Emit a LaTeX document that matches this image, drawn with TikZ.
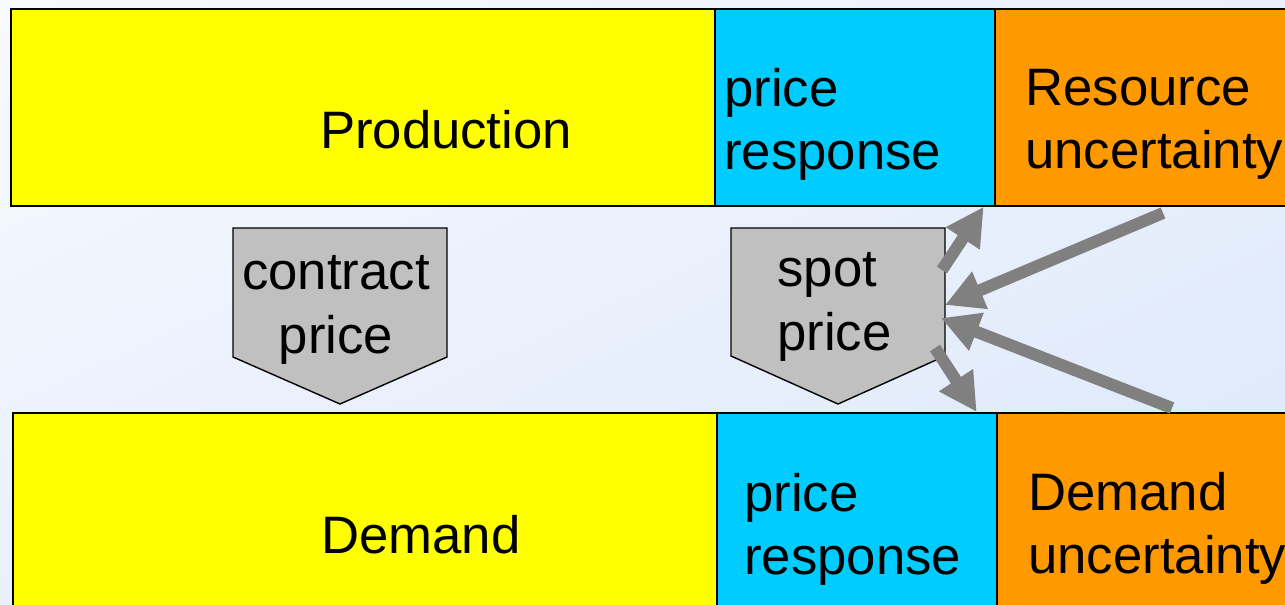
\documentclass[tikz,border=0pt]{standalone}
\usepackage{fontspec}
\setmainfont{Liberation Sans}
\usetikzlibrary{arrows.meta,positioning,calc,shadings}

\definecolor{sunyellow}{HTML}{FFFF00}
\definecolor{skycyan}{HTML}{00CCFF}
\definecolor{amber}{HTML}{FF9900}
\definecolor{tagfill}{HTML}{C0C0C0}
\definecolor{flowgray}{HTML}{808080}
\definecolor{paleA}{HTML}{F7F9FE}
\definecolor{paleB}{HTML}{E9F0FC}
\definecolor{paleC}{HTML}{DCE7FA}

\begin{document}
\begin{tikzpicture}[
    x=0.02cm, y=-0.02cm,
    cell/.style={draw, line width=1pt, anchor=north west, inner sep=0},
    txt/.style={font=\fontsize{30}{36}\selectfont, inner sep=0},
    tag/.style={draw, line width=0.8pt, fill=tagfill},
    flow/.style={draw=flowgray, line width=0.24cm, -{Triangle[length=0.76cm,width=0.76cm]}}
  ]

  \useasboundingbox (0,0) rectangle (1285,605);
  \clip (0,0) rectangle (1285,605);
  \shade[upper left=paleA, upper right=paleB, lower left=paleB, lower right=paleC]
    (0,0) rectangle (1285,605);

  % producer side
  \node[cell, fill=sunyellow, minimum width=14.08cm, minimum height=3.94cm] (prod) at (10,8) {};
  \node[cell, fill=skycyan, minimum width=5.6cm, minimum height=3.94cm] (resp1) at (714,8) {};
  \node[cell, fill=amber, minimum width=6.2cm, minimum height=3.94cm] (unc1) at (994,8) {};

  % consumer side
  \node[cell, fill=sunyellow, minimum width=14.08cm, minimum height=4.2cm] (dem) at (12,412) {};
  \node[cell, fill=skycyan, minimum width=5.6cm, minimum height=4.2cm] (resp2) at (716,412) {};
  \node[cell, fill=amber, minimum width=6.2cm, minimum height=4.2cm] (unc2) at (996,412) {};

  \node[txt] (prodtxt) at (446,130) {Production};
  \node[txt] (demtxt) at (421,535) {Demand};
  \node[txt, align=left, anchor=west] (resp1txt) at (724,124) {price\\response};
  \node[txt, align=left, anchor=west] (resp2txt) at (744,529) {price\\response};
  \node[txt, align=left, anchor=west] (unc1txt) at (1025,124) {Resource\\uncertainty};
  \node[txt, align=left, anchor=west] (unc2txt) at (1028,528) {Demand\\uncertainty};

  % price tags
  \draw[tag] (233,228) -- (447,228) -- (447,357) -- (340,404) -- (233,357) -- cycle;
  \draw[tag] (731,228) -- (945,228) -- (945,356) -- (838,404) -- (731,356) -- cycle;
  \node[txt, align=center] (contract) at (336,310) {contract\\price};
  \node[txt, align=left, anchor=west] (spot) at (777,307) {spot\\price};

  % influences on the spot price
  \coordinate (s1) at (942,270);
  \coordinate (s4) at (935,348);
  \coordinate (u1) at (1163,213);
  \coordinate (u2) at (1172,408);
  \coordinate (in1) at (945,305);
  \coordinate (in2) at (941,318);

  \draw[flow] (s1) -- ($(resp1.south east)+(-12,0)$);
  \draw[flow] (u1) -- (in1);
  \draw[flow] (u2) -- (in2);
  \draw[flow] (s4) -- ($(resp2.north east)+(-21,0)$);
\end{tikzpicture}
\end{document}
